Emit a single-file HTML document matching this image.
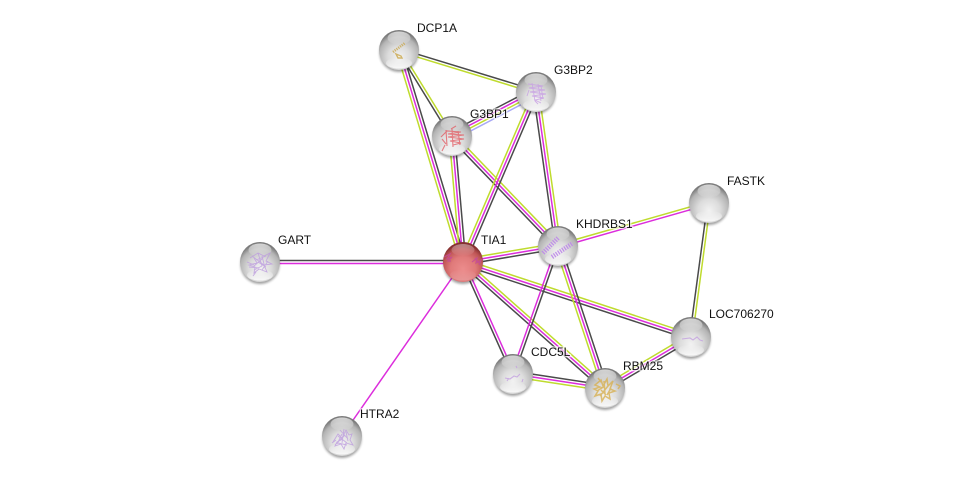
<!DOCTYPE html>
<html><head><meta charset="utf-8"><style>
html,body{margin:0;padding:0;background:#fff;width:976px;height:481px;overflow:hidden}
svg{display:block}
.e path{fill:none;stroke-width:1.5}
.k{stroke:#4a4a4a}.m{stroke:#dc2ddc}.y{stroke:#bfdb2e}.b{stroke:#a9a9f5}
text{font-family:"Liberation Sans",sans-serif;font-size:12px;fill:#111;paint-order:stroke;stroke:#fff;stroke-opacity:.65;stroke-width:2.5px}
.s{stroke-width:.9;stroke-opacity:.8;fill:none}
</style></head><body>
<svg width="976" height="481" viewBox="0 0 976 481" xmlns="http://www.w3.org/2000/svg">
<defs>
<radialGradient id="g" cx="50%" cy="68%" r="62%"><stop offset="0" stop-color="#f2f2f2"/><stop offset=".45" stop-color="#dcdcdc"/><stop offset=".82" stop-color="#b4b4b4"/><stop offset="1" stop-color="#7c7c7c"/></radialGradient>
<radialGradient id="r" cx="50%" cy="68%" r="62%"><stop offset="0" stop-color="#ec8c8c"/><stop offset=".5" stop-color="#e07a7a"/><stop offset=".82" stop-color="#bf5555"/><stop offset="1" stop-color="#863030"/></radialGradient>
<linearGradient id="h" x1="0" y1="0" x2="0" y2="1"><stop offset="0" stop-color="#fff" stop-opacity=".7"/><stop offset="1" stop-color="#fff" stop-opacity=".02"/></linearGradient>
<linearGradient id="l" x1="0" y1="0" x2="0" y2="1"><stop offset="0" stop-color="#fff" stop-opacity="0"/><stop offset="1" stop-color="#fff" stop-opacity=".8"/></linearGradient>
<filter id="f" x="-30%" y="-30%" width="160%" height="160%"><feGaussianBlur stdDeviation="1.4"/></filter>
<g id="n"><ellipse cx="0" cy="2.5" rx="19.5" ry="19.5" fill="#000" opacity=".38" filter="url(#f)"/><circle r="20" fill="url(#g)"/><ellipse cx="0" cy="-12" rx="11.5" ry="6.5" fill="url(#h)"/><ellipse cx="0" cy="13" rx="13" ry="5.5" fill="url(#l)"/></g>
<g id="nr"><ellipse cx="0" cy="2.5" rx="19.5" ry="19.5" fill="#000" opacity=".38" filter="url(#f)"/><circle r="20" fill="url(#r)"/><ellipse cx="0" cy="-12" rx="11.5" ry="6" fill="url(#h)" opacity=".6"/><ellipse cx="0" cy="13" rx="13" ry="5.5" fill="url(#l)" opacity=".25"/></g>
</defs>

<g class="e">
<g transform="translate(463 262) rotate(-106.8)"><path class="y" d="M0-2.8H221"/><path class="m" d="M0 0H221"/><path class="k" d="M0 2.8H221"/></g>
<g transform="translate(399 50) rotate(58.4)"><path class="y" d="M0-1.4H101"/><path class="k" d="M0 1.4H101"/></g>
<g transform="translate(399 50) rotate(17)"><path class="k" d="M0-1.4H143"/><path class="y" d="M0 1.4H143"/></g>
<g transform="translate(452 136) rotate(-27.6)"><path class="k" d="M0-4.2H95"/><path class="m" d="M0-1.4H95"/><path class="y" d="M0 1.4H95"/><path class="b" d="M0 4.2H95"/></g>
<g transform="translate(463 262) rotate(-95)"><path class="y" d="M0-2.8H126"/><path class="m" d="M0 0H126"/><path class="k" d="M0 2.8H126"/></g>
<g transform="translate(452 136) rotate(46.1)"><path class="y" d="M0-2.8H153"/><path class="m" d="M0 0H153"/><path class="k" d="M0 2.8H153"/></g>
<g transform="translate(463 262) rotate(-66.8)"><path class="y" d="M0-2.8H185"/><path class="m" d="M0 0H185"/><path class="k" d="M0 2.8H185"/></g>
<g transform="translate(536 92) rotate(81.9)"><path class="y" d="M0-2.8H155"/><path class="m" d="M0 0H155"/><path class="k" d="M0 2.8H155"/></g>
<g transform="translate(463 262) rotate(-9.6)"><path class="y" d="M0-2.8H96"/><path class="m" d="M0 0H96"/><path class="k" d="M0 2.8H96"/></g>
<g transform="translate(558 246) rotate(-15.9)"><path class="m" d="M0 1.4H157"/><path class="y" d="M0-1.4H157"/></g>
<g transform="translate(709 203) rotate(97.65)"><path class="y" d="M0-1.4H135"/><path class="k" d="M0 1.4H135"/></g>
<g transform="translate(463 262) rotate(18.2)"><path class="y" d="M0-2.8H240"/><path class="m" d="M0 0H240"/><path class="k" d="M0 2.8H240"/></g>
<g transform="translate(605 388) rotate(-30.7)"><path class="y" d="M0-2.8H100"/><path class="m" d="M0 0H100"/><path class="k" d="M0 2.8H100"/></g>
<g transform="translate(463 262) rotate(65.9)"><path class="m" d="M0-1.4H123"/><path class="k" d="M0 1.4H123"/></g>
<g transform="translate(463 262) rotate(41.6)"><path class="y" d="M0-2.8H190"/><path class="m" d="M0 0H190"/><path class="k" d="M0 2.8H190"/></g>
<path class="k" d="M260 260.5H463"/><path class="m" d="M260 263.5H463"/>
<path class="m" d="M463 262L342 436"/>
<g transform="translate(558 246) rotate(109.4)"><path class="k" d="M0-1.4H136"/><path class="m" d="M0 1.4H136"/></g>
<g transform="translate(558 246) rotate(71.7)"><path class="k" d="M0-2.8H150"/><path class="m" d="M0 0H150"/><path class="y" d="M0 2.8H150"/></g>
<g transform="translate(513 374) rotate(8.65)"><path class="k" d="M0-2.8H93"/><path class="m" d="M0 0H93"/><path class="y" d="M0 2.8H93"/></g>
</g>

<use href="#n" x="399" y="50"/>
<use href="#n" x="536" y="92"/>
<use href="#n" x="452" y="136"/>
<use href="#nr" x="463" y="262"/>
<use href="#n" x="260" y="262"/>
<use href="#n" x="558" y="246"/>
<use href="#n" x="709" y="203"/>
<use href="#n" x="691" y="337"/>
<use href="#n" x="513" y="374"/>
<use href="#n" x="605" y="388"/>
<use href="#n" x="342" y="436"/>

<g class="s">
<g stroke="#c9a64a"><path d="M393 52L405 43" stroke-width="2.6" stroke-dasharray="1.2 1"/><path d="M396 54l5 2 1 2-4 0z" stroke-width="1.4"/></g>
<g stroke="#c79ee4"><path d="M528 84l15 2-14 2 16 2-15 2 16 2-14 2 12 2-9 2 6 3M532 83l3 18M538 84l3 17M541 86l2 13M529 90l-2 6M535 101l3 3"/></g>
<g stroke="#e25f66"><path d="M441 137l6-6 14 1-13 2 16 1-16 2 16 2-14 2 11 2-8 2M446 130l1 16M452 129l1 18M458 131l2 14M445 145l-3 6M451 129l5-3M442 139l4 5" stroke-width="1.1"/></g>
<g stroke="#c44a98"><path d="M444 257l6-3-3 5 5-2-4 4 3 0M472 262l5-4-1 5 5-3-2 5M475 258l4 5" stroke-width="1.2"/></g>
<g stroke="#bd9cdf"><path d="M250 258l8-5 6 3 6-3-4 8 6 3-8 1 3 7-8-3-5 4 1-6-6-2 8-2-3-5M254 266l9-8M258 253l4 13M262 270l6-9M247 262l7 3M256 272l-3 4M252 256l12 9M256 260l10-4M249 267l10 1M262 256l3 12M258 262l8 5M254 270l8-4"/></g>
<g stroke="#bd86ea"><path d="M543 253L558 238M552 257L573 243" stroke-width="4.6" stroke-dasharray="1.3 1.2" stroke-opacity=".9"/></g>
<g stroke="#c3a0e0"><path d="M682 339l8-1 3 2 4-3 3 3 3 1" stroke-width="1.1"/></g>
<g stroke="#c3a0e0"><path d="M505 378l5 1 4-3 3 1 3-3M516 366l1 2M522 382l1-3M507 381l2-3" stroke-width="1.1"/></g>
<g stroke="#d7b052"><path d="M595 385l6-5 2 6 4-7 1 7 5-5-3 8 5 2-6 2 1 6-5-3-3 5-1-7-6 2 3-5-4-2 6-2zM601 390l5 5M604 381l1 13M616 384l4 2-2 3M598 378l3 4M597 391l8-5M607 395l4-7M600 396l8-10" stroke-width="1.5"/></g>
<g stroke="#bd9cdf"><path d="M333 442l5-8 4 4 4-8 3 5 3-1-2 6 3 5-7-2-2 6-3-5-6 2 2-4 6-3M338 436l9 7M344 429l-2 14M336 440l-4 3M340 430l8 9M335 445l10-10M342 434l-5 10M346 432l2 9M338 443l9 2"/></g>
</g>

<text x="417" y="32">DCP1A</text>
<text x="554" y="74">G3BP2</text>
<text x="470" y="118">G3BP1</text>
<text x="481" y="244">TIA1</text>
<text x="278" y="244">GART</text>
<text x="576" y="228">KHDRBS1</text>
<text x="727" y="185">FASTK</text>
<text x="709" y="318">LOC706270</text>
<text x="531" y="356">CDC5L</text>
<text x="623" y="370">RBM25</text>
<text x="360" y="418">HTRA2</text>
</svg>
</body></html>
